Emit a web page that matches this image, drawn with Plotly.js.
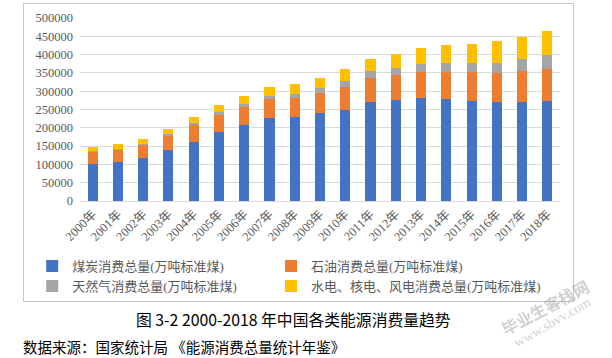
<!DOCTYPE html>
<html>
<head>
<meta charset="utf-8">
<script src="https://cdn.plot.ly/plotly-3.0.1.min.js"></script>
<style>
html,body{margin:0;padding:0;background:#fff;}
#chart{width:612px;height:358px;}
</style>
</head>
<body>
<div id="chart"></div>
<script>
// Data (10k tonnes standard coal equivalent)
const years = ["2000年","2001年","2002年","2003年","2004年","2005年","2006年","2007年","2008年","2009年",
  "2010年","2011年","2012年","2013年","2014年","2015年","2016年","2017年","2018年"];
const coal = [100670,105772,116160,138352,161657,189231,207402,225795,229237,240666,
  249568,271704,275465,280999,279329,273849,270208,270912,273760];
const oil = [32332,32976,35611,39614,45826,46524,50132,52945,53542,55125,
  62753,65023,68363,71292,74090,78673,80627,84323,87696];
const gas = [3233,3733,3900,4533,5296,6273,7735,9343,10901,11764,
  14426,17804,19303,22096,24271,25364,27021,31397,36192];
const other = [10728,13066,13905,14584,17501,19341,21199,23358,26931,28571,
  33901,32512,39007,42525,48116,52019,57964,61897,66352];
const seriesNames = ["煤炭消费总量(万吨标准煤)","石油消费总量(万吨标准煤)",
  "天然气消费总量(万吨标准煤)","水电、核电、风电消费总量(万吨标准煤)"];
const colors = ["#4472C4","#ED7D31","#A5A5A5","#FFC000"];
const yTicks = [0,50000,100000,150000,200000,250000,300000,350000,400000,450000,500000];

const serif = "'Liberation Serif', 'Noto Sans CJK SC', serif";
const cjk = "'Noto Sans CJK SC', sans-serif";

const seriesData = [coal, oil, gas, other];
const legendIds = ['legend','legend2','legend','legend2'];
const traces = seriesData.map((d,i)=>({
  type:'bar', x: years, y: d, name: seriesNames[i],
  marker:{color: colors[i]}, legend: legendIds[i]
}));

const legendBase = {orientation:'v', y:-0.274, xanchor:'left', yanchor:'top',
  font:{family:serif, size:13, color:'#595959'}, traceorder:'normal', itemwidth:30,
  bgcolor:'rgba(0,0,0,0)', tracegroupgap:0};

const layout = {
  width:612, height:358,
  margin:{l:80, r:52, t:18, b:157, pad:0},
  paper_bgcolor:'#fff', plot_bgcolor:'#fff',
  barmode:'stack', bargap:0.6,
  showlegend:true,
  legend:Object.assign({}, legendBase, {x:-0.0996}),
  legend2:Object.assign({}, legendBase, {x:0.398}),
  xaxis:{type:'category', tickangle:-45, showgrid:false, showline:true, linecolor:'#d9d9d9', linewidth:1,
    ticks:'', tickfont:{family:serif, size:12.5, color:'#595959'}},
  yaxis:{range:[0,500000], tickvals:yTicks, tickformat:'d', showgrid:true, gridcolor:'#d9d9d9', gridwidth:1,
    zeroline:false, showline:false, ticks:'', ticklabelstandoff:6,
    tickfont:{family:serif, size:12.5, color:'#595959'}},
  annotations:[
    // chart-area frame (light grey box around plot + legend)
    {xref:'paper', yref:'paper', x:0.456, y:0.2655, xanchor:'center', yanchor:'middle', showarrow:false,
      text:' ', width:549, height:297, borderpad:0, bordercolor:'#c8c8c8', borderwidth:1, bgcolor:'rgba(0,0,0,0)'},
    {xref:'paper', yref:'paper', x:0.4438, y:-0.6459, xanchor:'center', yanchor:'middle', showarrow:false,
      text:'图 3-2 2000-2018 年中国各类能源消费量趋势', font:{family:cjk, size:15.8, color:'#000'}},
    {xref:'paper', yref:'paper', x:-0.1229, y:-0.7937, xanchor:'left', yanchor:'middle', showarrow:false,
      text:'数据来源：国家统计局 《能源消费总量统计年鉴》', font:{family:cjk, size:14.5, color:'#000'}},
    {xref:'paper', yref:'paper', x:0.969, y:-0.58, xanchor:'center', yanchor:'middle', showarrow:false, textangle:-28,
      text:'<b>毕业生客栈网</b>', font:{family:cjk, size:16, color:'rgba(150,150,150,0.45)'}},
    {xref:'paper', yref:'paper', x:0.983, y:-0.662, xanchor:'center', yanchor:'middle', showarrow:false, textangle:-30,
      text:'www.sbvv.com', font:{family:serif, size:14, color:'rgba(150,150,150,0.45)'}}
  ]
};

Plotly.newPlot('chart', traces, layout, {displayModeBar:false, staticPlot:true});
</script>
</body>
</html>
